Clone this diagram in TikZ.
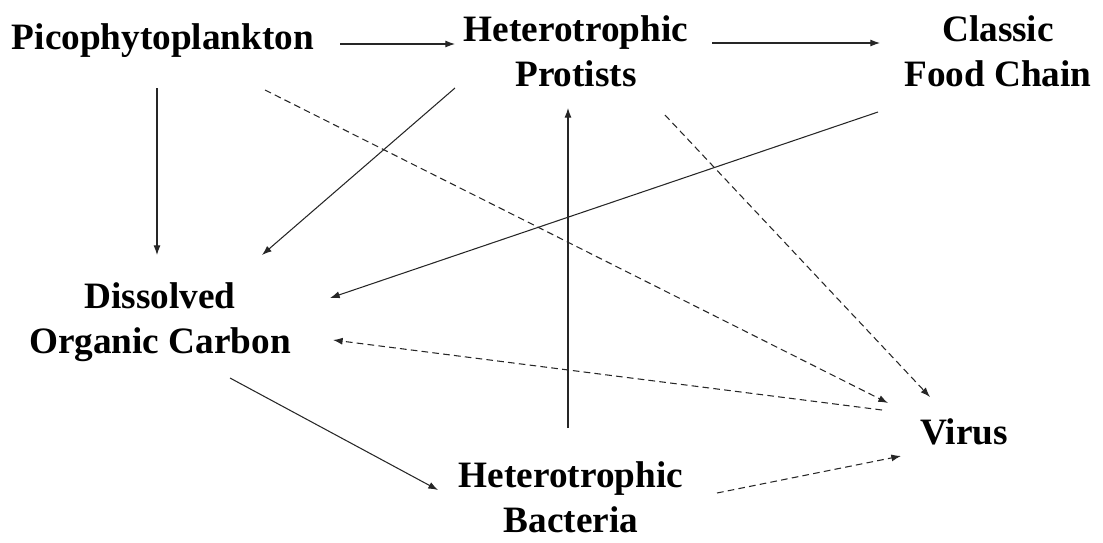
\documentclass[tikz,border=0pt]{standalone}
\usepackage{fontspec}
\setmainfont{Liberation Serif}
\usepackage{tikz}
\usetikzlibrary{arrows.meta}

\begin{document}
\begin{tikzpicture}[x=0.02cm,y=-0.02cm,
    lbl/.style={align=center,inner sep=0pt,font=\fontsize{21.2}{25.5}\selectfont\bfseries},
    arr/.style={line width=0.6pt,black!85,-{Latex[length=5.5pt,width=4pt]}},
    darr/.style={arr,dash pattern=on 3.8pt off 2.4pt}]
    \useasboundingbox (0,0) rectangle (1103,542);
    % Nodes
    \node[lbl] (pico) at (163,41) {Picophytoplankton};
    \node[lbl] (prot) at (576,51) {Heterotrophic\\Protists};
    \node[lbl] (chain) at (998,51) {Classic\\Food Chain};
    \node[lbl] (doc) at (160,322) {Dissolved\\Organic Carbon};
    \node[lbl] (bact) at (571,497) {Heterotrophic\\Bacteria};
    \node[lbl] (virus) at (964,432) {Virus};
    % Solid flows
    \draw[arr] ([shift={(177,3)}]pico.center) -- ([shift={(-121,-7)}]prot.center);
    \draw[arr] ([shift={(136,-8)}]prot.center) -- ([shift={(-118,-8)}]chain.center);
    \draw[arr] ([shift={(-6,47)}]pico.center) -- ([shift={(-3,-67)}]doc.center);
    \draw[arr] ([shift={(-121,37)}]prot.center) -- ([shift={(102,-67)}]doc.center);
    \draw[arr] ([shift={(-120,61)}]chain.center) -- ([shift={(170,-24)}]doc.center);
    \draw[arr] ([shift={(70,56)}]doc.center) -- ([shift={(-133,-7)}]bact.center);
    \draw[arr] ([shift={(-3,-69)}]bact.center) -- ([shift={(-8,57)}]prot.center);
    % Viral flows
    \draw[darr] ([shift={(102,49)}]pico.center) -- ([shift={(-76,-29)}]virus.center);
    \draw[darr] ([shift={(89,64)}]prot.center) -- ([shift={(-34,-35)}]virus.center);
    \draw[darr] ([shift={(-82,-22)}]virus.center) -- ([shift={(173,18)}]doc.center);
    \draw[darr] ([shift={(146,-4)}]bact.center) -- ([shift={(-63,24)}]virus.center);
\end{tikzpicture}
\end{document}
